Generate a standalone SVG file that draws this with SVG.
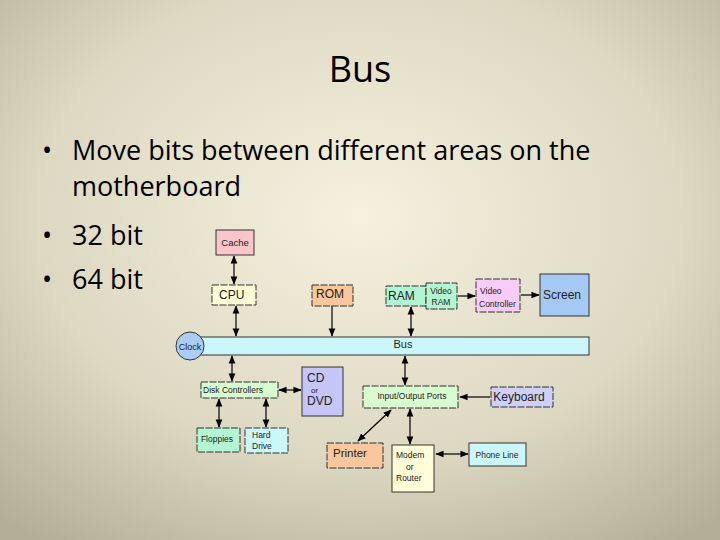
<svg xmlns="http://www.w3.org/2000/svg" width="720" height="540" viewBox="0 0 720 540">
<defs>
<radialGradient id="bg" cx="0.5" cy="0.4" r="0.75">
<stop offset="0" stop-color="#f6f1de"/><stop offset="0.6" stop-color="#ddd8c2"/><stop offset="1" stop-color="#b3ae98"/>
</radialGradient>
<marker id="a" viewBox="0 0 10 10" refX="9" refY="5" markerWidth="7" markerHeight="7" orient="auto-start-reverse"><path d="M0,1 L10,5 L0,9 z" fill="#000"/></marker>
<style>
.t{font-family:"Open Sans","Liberation Sans",sans-serif;fill:#000}
.n{font-family:"Liberation Sans",sans-serif;fill:#222}
.b{stroke:#333;stroke-width:1}
.d{stroke-dasharray:7,1.5}
.c line{stroke:#000;stroke-width:1.2}
</style>
</defs>
<rect width="720" height="540" fill="url(#bg)"/>
<text class="t" x="360" y="82" font-size="36" text-anchor="middle">Bus</text>
<g class="t" font-size="27">
<text x="42" y="160">•</text><text x="72" y="160">Move bits between different areas on the</text>
<text x="72" y="196">motherboard</text>
<text x="42" y="245">•</text><text x="72" y="245">32 bit</text>
<text x="42" y="289">•</text><text x="72" y="289">64 bit</text>
</g>
<g class="c">
<line x1="234" y1="256" x2="234" y2="284" marker-start="url(#a)" marker-end="url(#a)"/>
<line x1="236" y1="306" x2="236" y2="336" marker-start="url(#a)" marker-end="url(#a)"/>
<line x1="332" y1="306" x2="332" y2="336" marker-end="url(#a)"/>
<line x1="411" y1="307" x2="411" y2="336" marker-start="url(#a)" marker-end="url(#a)"/>
<line x1="458" y1="296" x2="475" y2="296" marker-end="url(#a)"/>
<line x1="521" y1="295" x2="539" y2="295" marker-end="url(#a)"/>
<line x1="232" y1="356" x2="232" y2="381" marker-start="url(#a)" marker-end="url(#a)"/>
<line x1="405" y1="356" x2="405" y2="385" marker-start="url(#a)" marker-end="url(#a)"/>
<line x1="279" y1="390" x2="301" y2="390" marker-start="url(#a)" marker-end="url(#a)"/>
<line x1="219" y1="399" x2="219" y2="427" marker-start="url(#a)" marker-end="url(#a)"/>
<line x1="266" y1="399" x2="266" y2="427" marker-start="url(#a)" marker-end="url(#a)"/>
<line x1="391" y1="410" x2="358" y2="441" marker-start="url(#a)" marker-end="url(#a)"/>
<line x1="410" y1="409" x2="410" y2="444" marker-start="url(#a)" marker-end="url(#a)"/>
<line x1="490" y1="397" x2="460" y2="397" marker-end="url(#a)"/>
<line x1="436" y1="454" x2="468" y2="454" marker-start="url(#a)" marker-end="url(#a)"/>
</g>
<g id="bus"><rect class="b" x="200" y="337" width="389" height="18" fill="#ccf7fa"/><text class="n" x="403" y="348" font-size="11" text-anchor="middle">Bus</text></g>
<g id="clock"><circle class="b" cx="190" cy="346" r="14" fill="#a9cdf5"/><text class="n" x="190" y="350" font-size="9" text-anchor="middle">Clock</text></g>
<g id="cache"><rect class="b" x="216" y="230" width="38" height="25" fill="#f8c5c8"/><text class="n" x="235" y="246" font-size="9.5" text-anchor="middle">Cache</text></g>
<g id="cpu"><rect class="b d" x="212" y="285" width="44" height="20" fill="#fffcd8"/><text class="n" x="219" y="299" font-size="12">CPU</text></g>
<g id="rom"><rect class="b d" x="312" y="285" width="41" height="21" fill="#f8c79c"/><text class="n" x="316" y="298" font-size="12">ROM</text></g>
<g id="ram"><rect class="b d" x="386" y="286" width="40" height="20" fill="#b3f5d2"/><text class="n" x="388" y="300" font-size="12">RAM</text></g>
<g id="vram"><rect class="b d" x="426" y="283" width="31" height="26" fill="#b3f5d2"/><text class="n" x="441" y="294" font-size="8.5" text-anchor="middle">Video</text><text class="n" x="441" y="305" font-size="8.5" text-anchor="middle">RAM</text></g>
<g id="vc"><rect class="b d" x="476" y="279" width="44" height="33" fill="#f8ccf8"/><text class="n" x="480" y="294" font-size="8.5">Video</text><text class="n" x="479" y="307" font-size="8.5">Controller</text></g>
<g id="screen"><rect class="b" x="540" y="274" width="49" height="42" fill="#a5c8f5"/><text class="n" x="562" y="299" font-size="12" text-anchor="middle">Screen</text></g>
<g id="dc"><rect class="b d" x="201" y="382" width="77" height="16" fill="#d8fbd0"/><text class="n" x="203" y="393" font-size="8.5">Disk Controllers</text></g>
<g id="cd"><rect class="b" x="302" y="367" width="41" height="49" fill="#c5c5f8"/><text class="n" x="307" y="382" font-size="12">CD</text><text class="n" x="311" y="393" font-size="8">or</text><text class="n" x="307" y="405" font-size="12">DVD</text></g>
<g id="io"><rect class="b d" x="363" y="386" width="95" height="22" fill="#d8fbd0"/><text class="n" x="412" y="399" font-size="8.5" text-anchor="middle">Input/Output Ports</text></g>
<g id="kb"><rect class="b d" x="491" y="387" width="62" height="20" fill="#cfcff8"/><text class="n" x="519" y="401" font-size="12" text-anchor="middle">Keyboard</text></g>
<g id="fl"><rect class="b d" x="197" y="428" width="43" height="24" fill="#b3f5d2"/><text class="n" x="217" y="442" font-size="8.5" text-anchor="middle">Floppies</text></g>
<g id="hd"><rect class="b d" x="245" y="428" width="43" height="25" fill="#ccf7fa"/><text class="n" x="252" y="438" font-size="8.5">Hard</text><text class="n" x="252" y="449" font-size="8.5">Drive</text></g>
<g id="pr"><rect class="b d" x="327" y="443" width="56" height="25" fill="#f8c79c"/><text class="n" x="333" y="457" font-size="11.5">Printer</text></g>
<g id="mo"><rect class="b" x="392" y="445" width="42" height="47" fill="#fffcd8"/><text class="n" x="396" y="458" font-size="8.5">Modem</text><text class="n" x="406" y="470" font-size="8.5">or</text><text class="n" x="396" y="481" font-size="8.5">Router</text></g>
<g id="pl"><rect class="b" x="469" y="443" width="57" height="23" fill="#ccf7fa"/><text class="n" x="497" y="458" font-size="8.5" text-anchor="middle">Phone Line</text></g>
</svg>
